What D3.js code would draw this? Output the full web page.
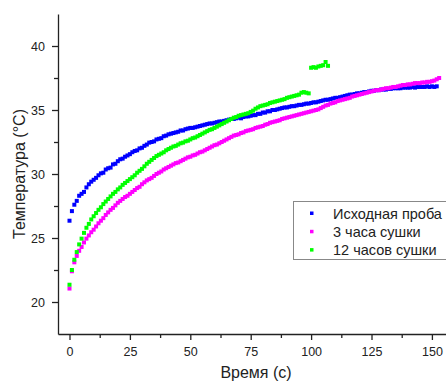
<!DOCTYPE html>
<html>
<head>
<meta charset="utf-8">
<script src="https://cdn.jsdelivr.net/npm/d3@7/dist/d3.min.js"></script>
<style>
    html, body { margin: 0; padding: 0; background: #fff; }
    #chart { width: 446px; height: 382px; overflow: hidden; }
    text { font-family: "Liberation Sans", Arial, sans-serif; fill: #222; }
</style>
</head>
<body>
<div id="chart"></div>
<script>
// series names (legend order)
const seriesNames = ['Исходная проба', '3 часа сушки', '12 часов сушки'];
const seriesColors = ['#0000ff', '#ff00ff', '#00ff00'];

// time of each reading, s
const timeBlue = d3.range(0, 153);
const timeMagenta = d3.range(0, 154);
const timeGreen = d3.range(0, 108);

// temperature, °C
const initialSample = [
    26.35, 27.1, 27.6, 27.9, 28.3, 28.45, 28.6, 28.95, 29.2, 29.4,
    29.55, 29.7, 29.9, 30.05, 30.1, 30.35, 30.45, 30.5, 30.75, 30.8,
    31.0, 31.15, 31.2, 31.35, 31.45, 31.55, 31.7, 31.8, 31.85, 32.0,
    32.05, 32.2, 32.3, 32.45, 32.5, 32.55, 32.7, 32.75, 32.8, 32.95,
    33.0, 33.1, 33.15, 33.2, 33.25, 33.3, 33.4, 33.4, 33.5, 33.55,
    33.6, 33.6, 33.65, 33.7, 33.75, 33.8, 33.85, 33.9, 33.95, 33.95,
    34.0, 34.05, 34.1, 34.1, 34.15, 34.2, 34.25, 34.3, 34.3, 34.35,
    34.4, 34.35, 34.45, 34.5, 34.5, 34.55, 34.6, 34.6, 34.7, 34.7,
    34.8, 34.8, 34.9, 34.9, 35.0, 35.0, 35.05, 35.1, 35.15, 35.2,
    35.2, 35.25, 35.3, 35.3, 35.35, 35.4, 35.4, 35.45, 35.5, 35.5,
    35.55, 35.6, 35.6, 35.65, 35.7, 35.75, 35.8, 35.8, 35.85, 35.9,
    35.95, 35.95, 36.0, 36.05, 36.1, 36.15, 36.2, 36.2, 36.25, 36.3,
    36.3, 36.35, 36.4, 36.4, 36.45, 36.5, 36.5, 36.55, 36.55, 36.6,
    36.6, 36.6, 36.65, 36.65, 36.7, 36.7, 36.7, 36.7, 36.75, 36.75,
    36.75, 36.75, 36.8, 36.75, 36.8, 36.8, 36.8, 36.8, 36.85, 36.8,
    36.85, 36.8, 36.85
];
const dried3h = [
    21.05, 22.4, 23.1, 23.6, 24.0, 24.3, 24.65, 24.95, 25.2, 25.45,
    25.65, 25.9, 26.15, 26.35, 26.55, 26.8, 27.0, 27.2, 27.35, 27.55,
    27.75, 27.9, 28.05, 28.2, 28.3, 28.45, 28.6, 28.75, 28.9, 29.0,
    29.2, 29.35, 29.5, 29.6, 29.7, 29.85, 30.0, 30.1, 30.2, 30.35,
    30.45, 30.55, 30.65, 30.75, 30.85, 30.9, 31.0, 31.1, 31.2, 31.3,
    31.35, 31.45, 31.5, 31.6, 31.7, 31.75, 31.85, 31.95, 32.05, 32.15,
    32.25, 32.3, 32.4, 32.5, 32.6, 32.7, 32.8, 32.9, 33.0, 33.05,
    33.1, 33.2, 33.25, 33.35, 33.4, 33.45, 33.5, 33.6, 33.65, 33.7,
    33.75, 33.85, 33.9, 34.0, 34.05, 34.1, 34.15, 34.2, 34.3, 34.35,
    34.4, 34.45, 34.5, 34.55, 34.6, 34.65, 34.7, 34.75, 34.8, 34.85,
    34.9, 34.95, 35.0, 35.05, 35.15, 35.25, 35.35, 35.4, 35.5, 35.55,
    35.6, 35.7, 35.75, 35.8, 35.85, 35.9, 35.95, 36.05, 36.1, 36.15,
    36.2, 36.25, 36.3, 36.35, 36.4, 36.45, 36.5, 36.55, 36.55, 36.6,
    36.65, 36.7, 36.7, 36.75, 36.8, 36.8, 36.85, 36.9, 36.95, 36.95,
    37.0, 37.0, 37.05, 37.1, 37.1, 37.1, 37.15, 37.15, 37.2, 37.2,
    37.25, 37.3, 37.4, 37.5
];
const dried12h = [
    21.35, 22.5, 23.3, 23.9, 24.5, 24.95, 25.4, 25.8, 26.1, 26.45,
    26.7, 26.95, 27.2, 27.4, 27.65, 27.85, 28.05, 28.25, 28.45, 28.6,
    28.8, 28.95, 29.15, 29.3, 29.45, 29.6, 29.75, 29.9, 30.1, 30.25,
    30.4, 30.6, 30.8, 30.95, 31.1, 31.25, 31.4, 31.5, 31.6, 31.7,
    31.85, 31.95, 32.05, 32.15, 32.2, 32.3, 32.4, 32.45, 32.55, 32.6,
    32.7, 32.8, 32.85, 32.95, 33.05, 33.15, 33.25, 33.35, 33.45, 33.5,
    33.6, 33.7, 33.8, 33.9, 34.0, 34.1, 34.2, 34.3, 34.4, 34.45,
    34.55, 34.6, 34.65, 34.7, 34.75, 34.85, 34.95, 35.1, 35.2, 35.3,
    35.35, 35.4, 35.45, 35.55, 35.6, 35.65, 35.7, 35.75, 35.8, 35.85,
    35.95, 36.0, 36.05, 36.1, 36.15, 36.2, 36.35, 36.4, 36.35, 36.3,
    38.3, 38.35, 38.3, 38.4, 38.45, 38.5, 38.75, 38.45
];

const xTicks = [0, 25, 50, 75, 100, 125, 150];
const yTicks = [20, 25, 30, 35, 40];

let svgWidth = 446,
    svgHeight = 382,
    margin = {top: 14, right: 0, bottom: 48, left: 58},
    width = 400,
    height = svgHeight - margin.top - margin.bottom;

let svg = d3.select('#chart')
    .append('svg')
    .attr('width', svgWidth)
    .attr('height', svgHeight);

let x = d3.scaleLinear().domain([-4.76, 160.8]).range([0, width]),
    y = d3.scaleLinear().domain([17.5, 42.5]).range([height, 0]);

let g = svg.append('g')
    .attr('transform', `translate(${margin.left},${margin.top})`);

// minor ticks
g.append('g')
    .attr('transform', `translate(0,${height})`)
    .call(d3.axisBottom(x).tickValues(d3.range(12.5, 160, 25)).tickSize(4).tickFormat(''))
    .call(a => a.select('.domain').remove());
g.append('g')
    .call(d3.axisLeft(y).tickValues(d3.range(22.5, 42.5, 5)).tickSize(4).tickFormat(''))
    .call(a => a.select('.domain').remove());

let xAxis = g.append('g')
    .attr('transform', `translate(0,${height})`)
    .call(d3.axisBottom(x).tickValues(xTicks).tickSize(6).tickPadding(7).tickSizeOuter(0));
let yAxis = g.append('g')
    .call(d3.axisLeft(y).tickValues(yTicks).tickSize(6).tickPadding(7).tickSizeOuter(0));

g.selectAll('.tick line, .domain').attr('stroke', '#222').attr('stroke-width', 1.3);
g.selectAll('.tick text')
    .style('font-family', '"Liberation Sans", Arial, sans-serif')
    .style('font-size', '12.5px')
    .attr('fill', '#222');

// axis titles
svg.append('text')
    .attr('x', 256)
    .attr('y', 378)
    .attr('text-anchor', 'middle')
    .style('font-size', '16px')
    .text('Время (с)');

svg.append('text')
    .attr('transform', 'translate(25,174) rotate(-90)')
    .attr('text-anchor', 'middle')
    .style('font-size', '16px')
    .text('Температура (°C)');

// scatter series
const series = [
    {time: timeBlue, values: initialSample},
    {time: timeMagenta, values: dried3h},
    {time: timeGreen, values: dried12h}
];
const size = 4;
series.forEach((s, k) => {
    g.append('g')
        .selectAll('rect')
        .data(s.values)
        .enter()
        .append('rect')
        .attr('x', (d, i) => x(s.time[i]) - size / 2)
        .attr('y', d => y(d) - size / 2)
        .attr('width', size)
        .attr('height', size)
        .attr('fill', seriesColors[k]);
});

// legend
let legend = svg.append('g').attr('transform', 'translate(293,201)');
legend.append('rect')
    .attr('x', 0.5).attr('y', 0.5)
    .attr('width', 170).attr('height', 58)
    .attr('fill', '#fff')
    .attr('stroke', '#888');
seriesNames.forEach((name, k) => {
    let row = legend.append('g').attr('transform', `translate(0,${12 + k * 18.3})`);
    row.append('rect')
        .attr('x', 17).attr('y', -1.5)
        .attr('width', 3.5).attr('height', 3.5)
        .attr('fill', seriesColors[k]);
    row.append('text')
        .attr('x', 40)
        .attr('y', 5.5)
        .style('font-size', '14.5px')
        .text(name);
});
</script>
</body>
</html>
